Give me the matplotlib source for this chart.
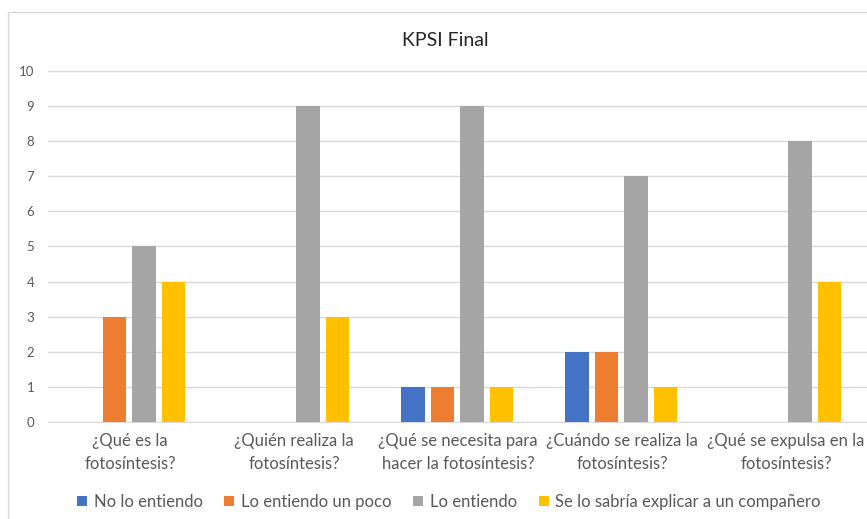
import numpy as np
import matplotlib.pyplot as plt
from matplotlib.patches import Rectangle

plt.rcParams['font.family'] = ['Lato', 'DejaVu Sans']

categories = ['¿Qué es la\nfotosíntesis?',
              '¿Quién realiza la\nfotosíntesis?',
              '¿Qué se necesita para\nhacer la fotosíntesis?',
              '¿Cuándo se realiza la\nfotosíntesis?',
              '¿Qué se expulsa en la\nfotosíntesis?']
series_names = ['No lo entiendo', 'Lo entiendo un poco', 'Lo entiendo',
                'Se lo sabría explicar a un compañero']
no_lo_entiendo = [0, 0, 1, 2, 0]
un_poco = [3, 0, 1, 2, 0]
lo_entiendo = [5, 9, 9, 7, 8]
explicar = [4, 3, 1, 1, 4]
yticks = list(range(0, 11))

colors = ['#4472C4', '#ED7D31', '#A5A5A5', '#FFC000']
W, H = 867, 519

fig = plt.figure(figsize=(W / 100, H / 100), dpi=100)
fig.patch.set_facecolor('white')

# chart frame (cut off on right and bottom like the screenshot)
fig.patches.append(Rectangle((8 / W, -0.1), 1.1, (H - 12) / H + 0.1,
                             transform=fig.transFigure, fill=False,
                             edgecolor='#d9d9d9', linewidth=1))

ax = fig.add_axes([48 / W, (H - 422) / H, (868 - 48) / W, 351 / H])
x = np.arange(len(categories))
step = 0.18
width = 0.142
all_series = [no_lo_entiendo, un_poco, lo_entiendo, explicar]
for i, (vals, name, c) in enumerate(zip(all_series, series_names, colors)):
    ax.bar(x + (i - 1.5) * step - 0.005, vals, width, color=c, label=name, zorder=3)

ax.set_xlim(-0.5, len(categories) - 0.5)
ax.set_ylim(0, 10)
ax.set_yticks(yticks)
ax.yaxis.grid(True, color='#d9d9d9', linewidth=1, zorder=0)
for s in ['top', 'right', 'left']:
    ax.spines[s].set_visible(False)
ax.spines['bottom'].set_color('#d9d9d9')
ax.tick_params(axis='both', length=0, colors='#595959')
ax.tick_params(axis='y', labelsize=9.5, pad=10)
ax.set_xticks(x)
ax.set_xticklabels(categories, fontsize=12, color='#595959', linespacing=1.5)
ax.tick_params(axis='x', pad=8)

fig.text(445 / W, 1 - 40 / H, 'KPSI Final', ha='center', va='center',
         fontsize=14, color='#262626')

fig.legend(loc='center', bbox_to_anchor=(449 / W, 1 - 502 / H), ncol=4,
           frameon=False, fontsize=12, labelcolor='#595959',
           handlelength=0.6, handleheight=0.6, handletextpad=0.4,
           columnspacing=1.3)

fig.savefig('out.png', dpi=100)
